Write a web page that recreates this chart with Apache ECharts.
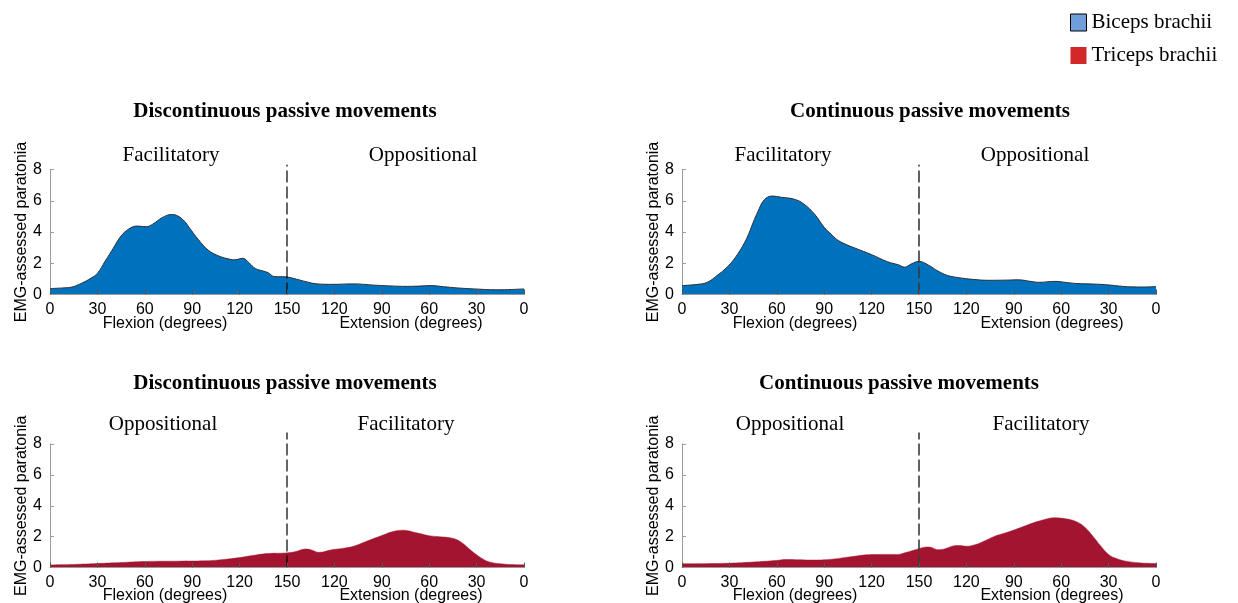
<!DOCTYPE html>
<html>
<head>
<meta charset="utf-8">
<script src="https://cdn.jsdelivr.net/npm/echarts@6/dist/echarts.min.js"></script>
<style>
  html, body { margin: 0; padding: 0; background: #fff; }
  #chart { width: 1238px; height: 603px; }
</style>
</head>
<body>
<div id="chart"></div>
<script>
// Joint path: 0..150 = flexion (0° -> 150°), 150..300 = extension (150° -> 0°)
const xTickLabels = ['0', '30', '60', '90', '120', '150', '120', '90', '60', '30', '0'];
const yTickValues = [0, 2, 4, 6, 8];

// Biceps brachii, discontinuous passive movements
const bicepsDiscPos = [0, 8, 14, 20, 26, 30, 35, 40, 45, 50, 55, 61, 65, 71, 77, 81, 85, 88, 94, 100, 106, 112, 117, 122, 126, 130, 135, 138, 142, 149, 156, 162, 169, 179, 192, 205, 215, 226, 234, 241, 249, 258, 268, 283, 292, 300];
const bicepsDiscVal = [0.38, 0.42, 0.48, 0.72, 1.05, 1.35, 2.15, 2.95, 3.75, 4.2, 4.38, 4.34, 4.5, 4.92, 5.12, 5.02, 4.7, 4.3, 3.5, 2.85, 2.5, 2.3, 2.22, 2.32, 2.02, 1.66, 1.5, 1.4, 1.15, 1.13, 0.98, 0.82, 0.68, 0.65, 0.68, 0.6, 0.55, 0.52, 0.54, 0.57, 0.5, 0.42, 0.36, 0.3, 0.32, 0.36];

// Biceps brachii, continuous passive movements
const bicepsContPos = [0, 10, 16, 22, 29, 35, 41, 45, 48, 52, 57, 63, 71, 77, 84, 90, 95, 99, 105, 110, 120, 130, 137, 141, 145, 150, 156, 162, 168, 175, 184, 194, 205, 213, 220, 226, 236, 244, 250, 260, 268, 276, 283, 292, 300];
const bicepsContVal = [0.57, 0.65, 0.78, 1.2, 1.8, 2.55, 3.6, 4.6, 5.3, 6.05, 6.3, 6.22, 6.1, 5.8, 5.13, 4.3, 3.8, 3.45, 3.15, 2.95, 2.55, 2.1, 1.9, 1.75, 1.95, 2.12, 1.88, 1.5, 1.22, 1.08, 0.97, 0.91, 0.92, 0.94, 0.85, 0.78, 0.84, 0.76, 0.7, 0.67, 0.63, 0.55, 0.49, 0.48, 0.51];

// Triceps brachii, discontinuous passive movements
const tricepsDiscPos = [0, 15, 30, 45, 60, 81, 98, 110, 120, 128, 137, 149, 155, 162, 166, 170, 179, 186, 192, 198, 204, 210, 216, 223, 232, 240, 253, 258, 262, 266, 270, 274, 278, 285, 292, 300];
const tricepsDiscVal = [0.17, 0.2, 0.26, 0.32, 0.39, 0.41, 0.43, 0.52, 0.64, 0.77, 0.9, 0.94, 1.02, 1.2, 1.12, 0.98, 1.16, 1.25, 1.37, 1.6, 1.84, 2.07, 2.3, 2.42, 2.25, 2.06, 1.93, 1.78, 1.5, 1.15, 0.82, 0.55, 0.36, 0.24, 0.19, 0.17];

// Triceps brachii, continuous passive movements
const tricepsContPos = [0, 30, 45, 59, 66, 74, 82, 95, 107, 120, 128, 137, 141, 146, 150, 155, 158, 162, 166, 171, 175, 180, 185, 190, 198, 204, 211, 222, 230, 235, 243, 250, 255, 260, 265, 270, 275, 281, 291, 300];
const tricepsContVal = [0.24, 0.28, 0.35, 0.45, 0.52, 0.5, 0.48, 0.54, 0.7, 0.84, 0.85, 0.85, 0.95, 1.1, 1.22, 1.33, 1.3, 1.15, 1.2, 1.38, 1.42, 1.38, 1.46, 1.65, 2.03, 2.22, 2.46, 2.88, 3.12, 3.22, 3.15, 2.95, 2.6, 2.03, 1.4, 0.85, 0.58, 0.41, 0.29, 0.26];

// Turning point of the movement (150°) and the extent of its marker line
const turnPoint = 150;
const dividerTopUpper = 8.3;
const dividerTopLower = 8.75;

const BLUE = '#0072BD';
const RED = '#A2142F';
const SANS = '"Liberation Sans", Arial, sans-serif';
const SERIF = '"Liberation Serif", "Times New Roman", serif';

const pairs = (pos, val) => pos.map((p, i) => [p, val[i]]);

const grids = [
  { left: 50, top: 169.5, width: 474, height: 125 },
  { left: 682, top: 169.5, width: 474, height: 125 },
  { left: 50, top: 444, width: 474, height: 123.5 },
  { left: 682, top: 444, width: 474, height: 123.5 }
];

const xAxes = grids.map((g, i) => ({
  type: 'value',
  gridIndex: i,
  min: 0, max: 300, interval: 30,
  z: 5,
  axisLine: { show: true, lineStyle: { color: '#9a9a9a', width: 1 } },
  axisTick: { show: true, inside: true, length: 5, lineStyle: { color: '#555', width: 1 } },
  axisLabel: {
    margin: 7,
    color: '#000',
    fontFamily: SANS,
    fontSize: 16,
    formatter: v => xTickLabels[Math.round(v / 30)]
  },
  splitLine: { show: false }
}));

const yAxes = grids.map((g, i) => ({
  type: 'value',
  gridIndex: i,
  min: yTickValues[0], max: yTickValues[yTickValues.length - 1], interval: 2,
  name: 'EMG-assessed paratonia',
  nameLocation: 'middle',
  nameGap: 20,
  nameTextStyle: { color: '#000', fontFamily: SANS, fontSize: 16 },
  axisLine: { show: true, lineStyle: { color: '#9a9a9a', width: 1 } },
  axisTick: { show: true, inside: true, length: 4, lineStyle: { color: '#9a9a9a' } },
  axisLabel: { margin: 8, color: '#000', fontFamily: SANS, fontSize: 16, padding: [6, 0, 0, 0] },
  splitLine: { show: false }
}));

function areaSeries(name, idx, pos, val, color, outline) {
  return {
    name: name,
    type: 'line',
    xAxisIndex: idx, yAxisIndex: idx,
    data: pairs(pos, val),
    smooth: 0.4,
    symbol: 'none',
    color: color,
    lineStyle: outline ? { color: '#2b2f36', width: 1 } : { color: color, width: 0.5 },
    areaStyle: { color: color, opacity: 1 },
    z: 2,
    silent: true
  };
}

function dividerSeries(idx, top, color, width) {
  return {
    name: 'turn',
    type: 'line',
    xAxisIndex: idx, yAxisIndex: idx,
    data: [[turnPoint, 0], [turnPoint, top]],
    symbol: 'none',
    clip: false,
    lineStyle: { color: color, width: width, type: [12, 4] },
    z: 4,
    silent: true
  };
}

const series = [
  areaSeries('Biceps brachii', 0, bicepsDiscPos, bicepsDiscVal, BLUE, true),
  areaSeries('Biceps brachii', 1, bicepsContPos, bicepsContVal, BLUE, true),
  areaSeries('Triceps brachii', 2, tricepsDiscPos, tricepsDiscVal, RED, false),
  areaSeries('Triceps brachii', 3, tricepsContPos, tricepsContVal, RED, false),
  dividerSeries(0, dividerTopUpper, '#000', 1.2),
  dividerSeries(1, dividerTopUpper, '#3a3a3a', 1.6),
  dividerSeries(2, dividerTopLower, '#000', 1.2),
  dividerSeries(3, dividerTopLower, '#3a3a3a', 1.6)
];

function label(text, x, y, font) {
  return {
    type: 'text', x: x, y: y, silent: true,
    style: {
      text: text, font: font, fill: '#000',
      align: 'center', verticalAlign: 'middle',
      textAlign: 'center', textVerticalAlign: 'middle'
    }
  };
}

const titleFont = 'bold 21px ' + SERIF;
const phaseFont = '21px ' + SERIF;
const axisFont = '16px ' + SANS;

const texts = [
  label('Discontinuous passive movements', 285, 112, titleFont),
  label('Continuous passive movements', 930, 112, titleFont),
  label('Discontinuous passive movements', 285, 384, titleFont),
  label('Continuous passive movements', 899, 384, titleFont),

  label('Facilitatory', 171, 155, phaseFont),
  label('Oppositional', 423, 155, phaseFont),
  label('Facilitatory', 783, 155, phaseFont),
  label('Oppositional', 1035, 155, phaseFont),
  label('Oppositional', 163, 424, phaseFont),
  label('Facilitatory', 406, 424, phaseFont),
  label('Oppositional', 790, 424, phaseFont),
  label('Facilitatory', 1041, 424, phaseFont),

  label('Flexion (degrees)', 165, 324, axisFont),
  label('Extension (degrees)', 411, 324, axisFont),
  label('Flexion (degrees)', 795, 324, axisFont),
  label('Extension (degrees)', 1052, 324, axisFont),
  label('Flexion (degrees)', 165, 596, axisFont),
  label('Extension (degrees)', 411, 596, axisFont),
  label('Flexion (degrees)', 795, 596, axisFont),
  label('Extension (degrees)', 1052, 596, axisFont)
];

const chart = echarts.init(document.getElementById('chart'), null, { renderer: 'canvas' });
chart.setOption({
  animation: false,
  backgroundColor: '#fff',
  grid: grids,
  xAxis: xAxes,
  yAxis: yAxes,
  legend: {
    orient: 'vertical',
    left: 1070, top: 12,
    padding: 0,
    itemWidth: 16, itemHeight: 17, itemGap: 12,
    icon: 'rect',
    selectedMode: false,
    textStyle: { color: '#000', fontFamily: SERIF, fontSize: 21 },
    data: [
      { name: 'Biceps brachii', itemStyle: { color: '#6f9fd8', borderColor: '#000', borderWidth: 1 } },
      { name: 'Triceps brachii', itemStyle: { color: '#d3282a', borderWidth: 0 } }
    ]
  },
  graphic: texts,
  series: series
});
</script>
</body>
</html>
